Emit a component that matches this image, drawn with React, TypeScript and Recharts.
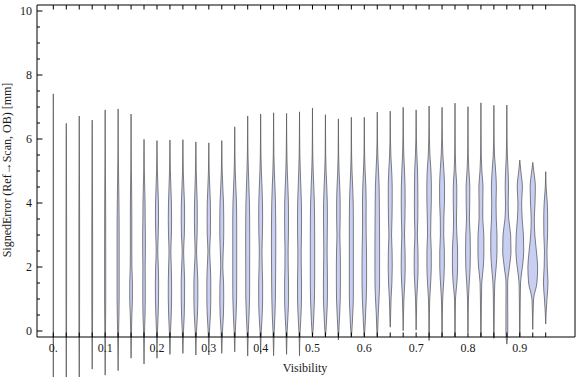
import React from 'react';
import { ComposedChart, Area, XAxis, YAxis } from 'recharts';

// Visibility categories (one violin each)
const VISIBILITY = [
  0, 0.025, 0.05, 0.075, 0.1, 0.125, 0.15, 0.175, 0.2, 0.225,
  0.25, 0.275, 0.3, 0.325, 0.35, 0.375, 0.4, 0.425, 0.45, 0.475,
  0.5, 0.525, 0.55, 0.575, 0.6, 0.625, 0.65, 0.675, 0.7, 0.725,
  0.75, 0.775, 0.8, 0.825, 0.85, 0.875, 0.9, 0.925, 0.95,
];

// Maximum signed error of each violin [mm]
const TOPS = [
  7.41, 6.49, 6.72, 6.59, 6.91, 6.94, 6.78, 5.99, 5.95, 5.97,
  5.98, 5.91, 5.88, 5.95, 6.38, 6.72, 6.78, 6.82, 6.8, 6.85,
  6.97, 6.76, 6.63, 6.68, 6.68, 6.84, 6.87, 6.99, 6.91, 7.03,
  6.99, 7.12, 7.01, 7.13, 7.05, 7.06, 5.34, 5.27, 4.98,
];

// Minimum signed error of each violin [mm]
const BOTTOMS = [
  -1.9, -1.9, -1.9, -1.19, -1.38, -1.24, -0.85, -1.03, -0.85, -0.73,
  -0.7, -0.75, -0.75, -0.7, -0.65, -0.78, -0.72, -0.77, -0.73, -0.77,
  -0.17, -0.18, -0.28, -0.18, -0.18, -0.18, 0.12, 0.01, 0.03, -0.3,
  -0.18, -0.18, -0.04, -0.18, -0.23, -0.41, -0.18, 0.05, 0.22,
];

// Signed error levels at which the density (half width) is sampled
const WIDTH_LEVELS = [0, 0.5, 1, 1.5, 2, 2.5, 3, 3.5, 4, 4.5, 5, 5.5, 6];

// Half width of each violin at each level, in thousandths of visibility
const VIOLIN_WIDTHS: (number | null)[][] = [
  [0.4, 0.4, 0.4, 0.4, 0.4, 0.4, 0.4, 0.4, 0.4, 0.4, 0.4, 0.3, 0.2],
  [0.5, 0.5, 0.6, 0.6, 0.6, 0.6, 0.6, 0.6, 0.5, 0.5, 0.4, 0.3, 0.2],
  [0.6, 0.6, 0.7, 0.7, 0.7, 0.7, 0.7, 0.7, 0.6, 0.5, 0.4, 0.3, 0.2],
  [0.6, 0.7, 0.8, 0.8, 0.8, 0.8, 0.8, 0.7, 0.6, 0.5, 0.4, 0.3, 0.2],
  [0.7, 0.9, 1.1, 1.1, 1.1, 1.1, 1.0, 1.0, 0.9, 0.7, 0.5, 0.3, 0.2],
  [1.0, 1.6, 2.0, 2.0, 2.0, 2.0, 2.0, 1.9, 1.6, 1.2, 0.8, 0.4, 0.2],
  [0.8, 1.5, 2.6, 2.6, 1.6, 1.4, 1.4, 1.4, 1.3, 1.0, 0.6, 0.3, 0.2],
  [1.0, 2.0, 2.4, 2.4, 2.2, 2.6, 2.6, 2.2, 2.0, 1.3, 0.6, 0.3, null],
  [1.0, 2.2, 3.0, 3.2, 2.6, 1.5, 2.4, 3.0, 2.8, 1.8, 0.8, 0.3, null],
  [1.2, 2.5, 3.2, 3.2, 2.6, 1.8, 2.8, 3.2, 2.8, 1.8, 0.8, 0.3, null],
  [1.2, 2.6, 3.2, 3.3, 2.4, 1.4, 2.8, 3.3, 3.0, 1.8, 0.7, 0.3, null],
  [1.3, 3.0, 3.8, 3.8, 2.6, 1.4, 2.4, 2.8, 2.6, 1.6, 0.7, 0.3, null],
  [1.3, 3.0, 3.8, 3.8, 3.0, 1.7, 3.0, 3.3, 3.0, 1.8, 0.7, 0.3, null],
  [1.4, 3.2, 3.8, 3.5, 2.0, 2.8, 3.8, 3.8, 3.4, 2.0, 0.8, 0.3, null],
  [1.2, 2.6, 3.6, 3.8, 3.8, 3.8, 3.8, 3.8, 3.4, 2.2, 1.0, 0.5, 0.2],
  [1.2, 2.6, 3.6, 3.8, 3.8, 3.9, 3.9, 3.8, 3.4, 2.4, 1.4, 0.6, 0.3],
  [1.2, 3.0, 3.8, 3.8, 3.0, 2.6, 3.4, 3.8, 3.6, 2.6, 1.4, 0.6, 0.3],
  [1.2, 2.6, 3.4, 3.8, 4.0, 4.2, 4.2, 4.0, 3.6, 2.6, 1.4, 0.6, 0.3],
  [1.2, 2.8, 3.8, 3.8, 3.2, 3.0, 3.6, 3.8, 3.6, 2.6, 1.4, 0.7, 0.3],
  [1.2, 2.8, 3.8, 3.9, 3.4, 3.2, 3.7, 3.9, 3.6, 2.6, 1.5, 0.7, 0.3],
  [1.0, 2.6, 3.8, 4.2, 4.2, 4.2, 4.2, 4.0, 3.6, 2.6, 1.4, 0.6, 0.3],
  [1.0, 2.6, 3.8, 3.9, 3.6, 3.2, 3.5, 3.8, 3.6, 2.6, 1.3, 0.5, 0.3],
  [0.9, 2.4, 3.6, 3.9, 3.9, 3.6, 2.8, 3.4, 3.4, 2.6, 1.3, 0.5, 0.3],
  [1.0, 2.6, 3.8, 3.9, 3.9, 3.9, 3.9, 3.9, 3.6, 2.6, 1.3, 0.5, 0.3],
  [0.9, 2.4, 3.8, 4.4, 4.4, 4.2, 3.6, 3.4, 3.6, 3.0, 1.6, 0.6, 0.3],
  [0.8, 1.8, 3.4, 4.4, 4.5, 4.5, 4.4, 4.2, 4.0, 3.6, 2.4, 1.0, 0.4],
  [null, 0.8, 1.6, 3.2, 3.9, 3.6, 2.6, 3.4, 3.8, 3.8, 2.8, 1.2, 0.4],
  [null, 0.6, 1.4, 3.0, 3.9, 3.6, 2.6, 3.4, 3.8, 3.6, 2.6, 1.2, 0.5],
  [null, 0.6, 1.2, 2.8, 3.8, 3.6, 2.4, 3.2, 3.4, 3.2, 2.8, 1.4, 0.5],
  [0.4, 0.6, 1.2, 3.0, 4.2, 4.2, 3.0, 3.4, 4.2, 4.4, 3.6, 1.6, 0.6],
  [0.4, 0.6, 1.2, 3.0, 4.4, 4.4, 3.2, 3.4, 4.6, 4.8, 3.6, 1.6, 0.6],
  [0.3, 0.5, 0.9, 3.6, 5.0, 5.0, 3.6, 2.8, 3.4, 3.4, 1.6, 0.6, 0.3],
  [0.3, 0.5, 0.9, 2.4, 4.2, 4.6, 4.2, 2.8, 3.4, 3.6, 1.8, 0.6, 0.3],
  [0.4, 0.7, 1.0, 1.6, 4.6, 5.8, 5.6, 3.6, 3.6, 4.0, 1.8, 0.6, 0.3],
  [0.4, 0.7, 1.0, 1.8, 4.4, 6.0, 6.0, 4.6, 4.2, 4.8, 3.4, 1.2, 0.4],
  [1.8, 1.8, 1.6, 1.6, 5.0, 8.0, 7.4, 3.6, 2.6, 3.2, 2.4, 1.0, 0.4],
  [0.4, 0.6, 0.9, 1.4, 5.0, 7.6, 7.0, 4.6, 3.6, 5.0, 2.0, null, null],
  [null, 0.6, 1.6, 8.0, 9.4, 7.0, 4.0, 3.0, 4.4, 5.0, 2.0, null, null],
  [null, 0.6, 2.4, 4.4, 3.0, 2.4, 3.6, 3.8, 3.0, 0.8, null, null, null],
];

// Tick labels
const X_TICKS = VISIBILITY;
const X_LABEL_VALUES = [0, 0.1, 0.2, 0.3, 0.4, 0.5, 0.6, 0.7, 0.8, 0.9];
const X_LABEL_TEXTS = ['0.', '0.1', '0.2', '0.3', '0.4', '0.5', '0.6', '0.7', '0.8', '0.9'];
const Y_TICKS = [
  0, 0.5, 1, 1.5, 2, 2.5, 3, 3.5, 4, 4.5, 5, 5.5, 6, 6.5, 7, 7.5, 8, 8.5, 9, 9.5, 10,
];
const Y_MAJOR = [0, 2, 4, 6, 8, 10];

const X_DOMAIN: [number, number] = [-0.0315, 1.0065];
const Y_DOMAIN: [number, number] = [-0.1875, 10.1875];

const FONT = '"Liberation Serif", "Times New Roman", serif';
const TEXT_COLOR = '#1a1a1a';

const series = VISIBILITY.map((x0, i) => {
  const pts: { y: number; range: [number, number] }[] = [
    { y: BOTTOMS[i], range: [x0, x0] },
  ];
  WIDTH_LEVELS.forEach((lv, k) => {
    const w = VIOLIN_WIDTHS[i][k];
    if (w == null || lv <= BOTTOMS[i] || lv >= TOPS[i]) return;
    const d = w / 1000;
    pts.push({ y: lv, range: [x0 - d, x0 + d] });
  });
  pts.push({ y: TOPS[i], range: [x0, x0] });
  return pts;
});

const labelFor = (v: number) => {
  const k = X_LABEL_VALUES.findIndex((t) => Math.abs(t - v) < 1e-6);
  return k >= 0 ? X_LABEL_TEXTS[k] : null;
};

const BottomTick = (props: any) => {
  const { x, y, payload } = props;
  const label = labelFor(payload.value);
  return (
    <g>
      <line x1={x} x2={x} y1={y} y2={y - 4.5} stroke="#000" strokeWidth={1} />
      {label && (
        <text x={x} y={y + 14.5} textAnchor="middle" fontSize={12} fontFamily={FONT} fill={TEXT_COLOR}>
          {label}
        </text>
      )}
    </g>
  );
};

const TopTick = (props: any) => {
  const { x, y } = props;
  return <line x1={x} x2={x} y1={y} y2={y + 4.5} stroke="#000" strokeWidth={1} />;
};

const isMajorY = (v: number) => Y_MAJOR.some((t) => Math.abs(t - v) < 1e-6);

const LeftTick = (props: any) => {
  const { x, y, payload } = props;
  const major = isMajorY(payload.value);
  return (
    <g>
      <line x1={x} x2={x + (major ? 5.5 : 3)} y1={y} y2={y} stroke="#000" strokeWidth={1} />
      {major && (
        <text x={x - 5} y={y + 4} textAnchor="end" fontSize={12} fontFamily={FONT} fill={TEXT_COLOR}>
          {payload.value}
        </text>
      )}
    </g>
  );
};

const RightTick = (props: any) => {
  const { x, y, payload } = props;
  const major = isMajorY(payload.value);
  return <line x1={x} x2={x - (major ? 5.5 : 3)} y1={y} y2={y} stroke="#000" strokeWidth={1} />;
};

const YTitle = (props: any) => {
  const vb = props.viewBox || { x: 0, y: 5, width: 37, height: 332 };
  const x = vb.x + 10.5;
  const y = vb.y + vb.height / 2 - 1;
  return (
    <text x={x} y={y} transform={`rotate(-90 ${x} ${y})`} textAnchor="middle" fontSize={12} fontFamily={FONT} fill={TEXT_COLOR}>
      SignedError (Ref→Scan, OB) [mm]
    </text>
  );
};

const XTitle = (props: any) => {
  const vb = props.viewBox || { x: 37, y: 337, width: 538, height: 40 };
  const x = vb.x + vb.width / 2 - 1;
  const y = vb.y + 35;
  return (
    <text x={x} y={y} textAnchor="middle" fontSize={12} fontFamily={FONT} fill={TEXT_COLOR}>
      Visibility
    </text>
  );
};

const css = `
.recharts-area, .recharts-area * { clip-path: none !important; }
`;

export default function App() {
  return (
    <div style={{ position: 'absolute', left: 0, top: 0, width: 576, height: 377, background: '#fff' }}>
      <style>{css}</style>
      <ComposedChart
        width={576}
        height={377}
        layout="vertical"
        margin={{ top: 4, right: 0, bottom: 0, left: 0 }}
      >
        <XAxis
          xAxisId="b"
          type="number"
          orientation="bottom"
          domain={X_DOMAIN}
          allowDataOverflow
          ticks={X_TICKS}
          interval={0}
          height={40}
          tickSize={0}
          tickMargin={0}
          tickLine={false}
          axisLine={{ stroke: '#000', strokeWidth: 1 }}
          tick={<BottomTick />}
          label={<XTitle />}
        />
        <XAxis
          xAxisId="t"
          type="number"
          orientation="top"
          domain={X_DOMAIN}
          allowDataOverflow
          ticks={X_TICKS}
          interval={0}
          height={1}
          tickSize={0}
          tickMargin={0}
          tickLine={false}
          axisLine={{ stroke: '#000', strokeWidth: 1 }}
          tick={<TopTick />}
        />
        <YAxis
          yAxisId="l"
          type="number"
          dataKey="y"
          orientation="left"
          reversed
          domain={Y_DOMAIN}
          allowDataOverflow
          ticks={Y_TICKS}
          interval={0}
          width={37}
          tickSize={0}
          tickMargin={0}
          tickLine={false}
          axisLine={{ stroke: '#000', strokeWidth: 1 }}
          tick={<LeftTick />}
          label={<YTitle />}
        />
        <YAxis
          yAxisId="r"
          type="number"
          orientation="right"
          reversed
          domain={Y_DOMAIN}
          allowDataOverflow
          ticks={Y_TICKS}
          interval={0}
          width={1}
          tickSize={0}
          tickMargin={0}
          tickLine={false}
          axisLine={{ stroke: '#000', strokeWidth: 1 }}
          tick={<RightTick />}
        />
        {series.map((pts, i) => (
          <Area
            key={i}
            xAxisId="b"
            yAxisId="l"
            data={pts}
            dataKey="range"
            type="monotone"
            stroke="#5a5a5a"
            strokeOpacity={0.85}
            strokeWidth={0.9}
            fill="#c8cff3"
            fillOpacity={1}
            dot={false}
            activeDot={false}
            isAnimationActive={false}
          />
        ))}
      </ComposedChart>
    </div>
  );
}
